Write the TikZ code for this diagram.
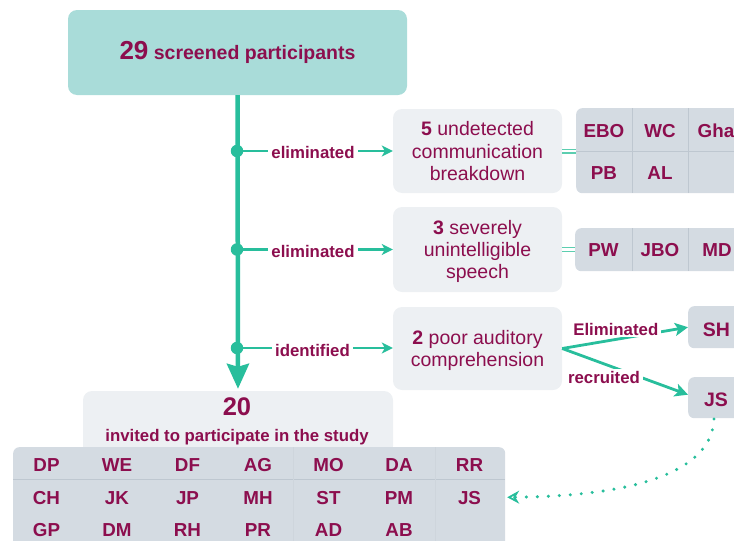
\documentclass[tikz,border=0pt]{standalone}
\usepackage{fontspec}
\setmainfont{Liberation Sans}
\usetikzlibrary{arrows.meta}

\definecolor{plum}{RGB}{140,14,78}
\definecolor{flow}{RGB}{40,190,156}
\definecolor{flowlight}{RGB}{92,206,176}
\definecolor{headfill}{RGB}{169,220,217}
\definecolor{boxgrey}{RGB}{237,240,243}
\definecolor{cellgrey}{RGB}{212,219,226}
\definecolor{cellrule}{RGB}{190,199,208}
\definecolor{cellfaint}{RGB}{206,213,220}

\newcommand\setfs[2]{\fontsize{#1}{#2}\selectfont}

\begin{document}
\begin{tikzpicture}[x=1pt,y=-1pt,
  headbox/.style={fill=headfill, rounded corners=9pt, minimum width=339pt,
    minimum height=85pt, inner sep=0pt, text=plum, font=\bfseries\setfs{19.5}{22}},
  stagebox/.style={fill=boxgrey, rounded corners=9pt, minimum width=169pt,
    inner sep=0pt, align=center, text=plum, font=\setfs{19.5}{22.3}, text depth=0pt},
  panel/.style={fill=cellgrey, rounded corners=6pt, inner sep=0pt, anchor=north west},
  rule/.style={draw=cellrule, line width=0.8pt},
  cell/.style={anchor=base, text=plum, inner sep=1pt, font=\bfseries\setfs{18.8}{20}},
  bigcell/.style={anchor=base, text=plum, inner sep=1pt, font=\bfseries\setfs{19.5}{20}},
  lbl/.style={anchor=base, text=plum, fill=white, inner xsep=3pt, inner ysep=2pt,
    font=\bfseries\setfs{16.8}{18}},
  trunk/.style={draw=flow, line width=4.5pt, -{Stealth[length=25pt,width=22pt,inset=3pt]}},
  branch/.style={draw=flow, line width=2.6pt, -{Stealth[length=11pt,width=11pt,inset=3pt]}},
  fork/.style={draw=flow, line width=2.8pt, -{Stealth[length=13pt,width=13pt,inset=3pt]}},
  eqlink/.style={draw=flowlight, line width=1.3pt, double=white, double distance=2.4pt},
  dotlink/.style={draw=flow, line width=3.4pt, line cap=round, dash pattern=on 0pt off 11pt,
    -{Stealth[open, length=12pt, width=13pt, line width=1.8pt]}},
  joint/.style={circle, fill=flow, minimum size=12.5pt, inner sep=0pt}
]
\path[use as bounding box] (0,0) rectangle (734,541);
\clip (0,0) rectangle (734,541);

% ---- screening header ----
\node[headbox] (top) at (237.5,52.5) {{\setfs{26}{26}29} screened participants};

% ---- outcome boxes ----
\node[stagebox, minimum height=84pt] (b1) at (477.5,151) {\textbf{5} undetected\\communication\\breakdown};
\node[stagebox, minimum height=85pt] (b2) at (477.5,249.5) {\textbf{3} severely\\unintelligible\\speech};
\node[stagebox, minimum height=83pt] (b3) at (477.5,348.5) {\textbf{2} poor auditory\\comprehension};

% ---- invited box ----
\node[fill=boxgrey, rounded corners=9pt, minimum width=310pt, minimum height=64pt,
      inner sep=0pt] (inv) at (238,423) {};
\node[anchor=base, text=plum, inner sep=0pt, font=\bfseries\setfs{25.5}{26}] (n20) at (237,415) {20};
\node[anchor=base, text=plum, inner sep=0pt, font=\bfseries\setfs{16.8}{18}] (invtxt) at (237,441.7)
  {invited to participate in the study};

% ---- name panels on the right ----
\node[panel, minimum width=184pt, minimum height=85pt] (t1) at (576,108) {};
\draw[rule] (576,151) -- (760,151);
\draw[rule] (632,108) -- (632,193);
\draw[rule] (688,108) -- (688,193);
\node[cell] (eEBO) at (604,137.3) {EBO};
\node[cell] (eWC)  at (660,137.3) {WC};
\node[cell] (eGha) at (716,137.3) {Gha};
\node[cell] (ePB)  at (604,179) {PB};
\node[cell] (eAL)  at (660,179) {AL};

\node[panel, minimum width=185pt, minimum height=43pt] (t2) at (575,228) {};
\draw[rule] (632,228) -- (632,271);
\draw[rule] (688,228) -- (688,271);
\node[cell] (sPW)  at (603.5,256.7) {PW};
\node[cell] (sJBO) at (660,256.7) {JBO};
\node[cell] (sMD)  at (717,256.7) {MD};

\node[panel, minimum width=72pt, minimum height=42pt] (shbox) at (688,306) {};
\node[bigcell] (sh) at (716.5,336) {SH};
\node[panel, minimum width=72pt, minimum height=41pt] (jsbox) at (688,377) {};
\node[bigcell] (js) at (716,406.7) {JS};

% ---- participants table ----
\node[panel, minimum width=492pt, minimum height=120pt] (tab) at (13,447) {};
\draw[rule] (13,479) -- (505,479);
\draw[draw=cellfaint, line width=0.6pt] (293,447) -- (293,541);
\draw[draw=cellfaint, line width=0.6pt] (435,447) -- (435,541);
\foreach \nm [count=\i from 0] in {DP,WE,DF,AG,MO,DA,RR}
  \node[cell] (r1-\nm) at (46.5+70.5*\i,471.7) {\nm};
\foreach \nm [count=\i from 0] in {CH,JK,JP,MH,ST,PM,JS}
  \node[cell] (r2-\nm) at (46.5+70.5*\i,504) {\nm};
\foreach \nm [count=\i from 0] in {GP,DM,RH,PR,AD,AB}
  \node[cell] (r3-\nm) at (46.5+70.5*\i,536) {\nm};

% ---- flow ----
\draw[trunk, shorten >=2pt] (top.south) -- (inv.north);

\coordinate (d1) at (237,151);
\coordinate (d2) at (237,249.5);
\coordinate (d3) at (237,348);

\draw[branch] (d1) -- (d1 -| b1.west);
\draw[branch] (d2) -- (d2 -| b2.west);
\draw[branch] (d3) -- (d3 -| b3.west);
\node[lbl] (l1) at (313,158.3) {eliminated};
\node[lbl] (l2) at (313,257.5) {eliminated};
\node[lbl] (l3) at (312.5,356.5) {identified};

\node[joint] (j1) at (d1) {};
\node[joint] (j2) at (d2) {};
\node[joint] (j3) at (d3) {};

\draw[eqlink] (b1.east) -- (b1.east -| t1.west);
\draw[eqlink] (b2.east) -- (b2.east -| t2.west);

\draw[fork] (b3.east) -- (shbox.west);
\draw[fork] (b3.east) -- ([yshift=3pt]jsbox.west);
\node[lbl] (lelim) at (615.8,335) {Eliminated};
\node[lbl] (lrec) at (604,383.3) {recruited};

\coordinate (jsfoot) at (714,419);
\draw[dotlink, shorten >=25pt] (jsfoot) .. controls (712,470) and (640,496) .. (r2-JS.east);
\end{tikzpicture}
\end{document}
